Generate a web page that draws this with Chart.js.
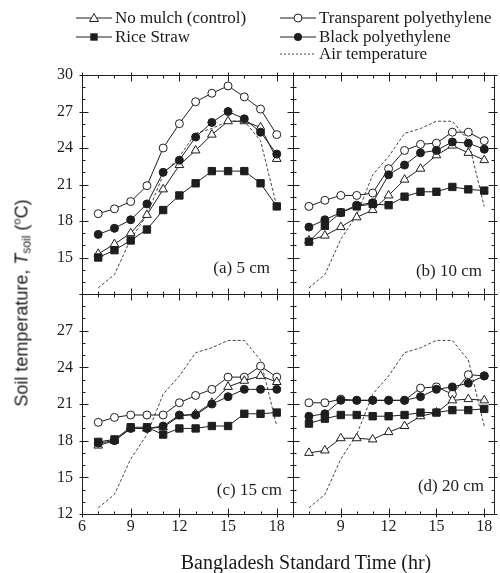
<!DOCTYPE html>
<html>
<head>
<meta charset="utf-8">
<script src="https://cdn.jsdelivr.net/npm/chart.js@4.4.1/dist/chart.umd.min.js"></script>
<style>
  body { margin: 0; background: #fff; }
  #wrap { position: relative; width: 500px; height: 573px; overflow: hidden; font-family: "Liberation Serif", serif; color: #1a1a1a; }
  #wrap canvas { position: absolute; left: 0; top: 0; }
  .leg { position: absolute; font-size: 17px; line-height: 18px; white-space: nowrap; }
  .leg svg { position: absolute; left: 0; top: 3px; }
  .leg span { position: absolute; left: 39px; top: 0; }
  #ytitle { position: absolute; left: 22px; top: 303px; transform: translate(-50%, -50%) rotate(-90deg);
            white-space: nowrap; font-family: "Liberation Sans", sans-serif; font-size: 18px; }
  #ytitle sub { font-size: 12px; vertical-align: -3px; }
  #ytitle sup { font-size: 11px; vertical-align: 7px; }
  #xtitle { position: absolute; left: 306px; top: 562px; transform: translate(-50%, -50%);
            white-space: nowrap; font-size: 20px; }
</style>
</head>
<body>
<div id="wrap">
  <canvas id="pa" width="500" height="573"></canvas>
  <canvas id="pb" width="500" height="573"></canvas>
  <canvas id="pc" width="500" height="573"></canvas>
  <canvas id="pd" width="500" height="573"></canvas>
  <div id="legend"></div>
  <div id="ytitle">Soil temperature, <i>T</i><sub>soil</sub> (<sup>o</sup>C)</div>
  <div id="xtitle">Bangladesh Standard Time (hr)</div>
</div>
<script>
const hours = [7, 8, 9, 10, 11, 12, 13, 14, 15, 16, 17, 18]
const airTemp = [12.5, 13.6, 16.5, 18.5, 21.8, 23.3, 25.2, 25.6, 26.2, 26.2, 24.6, 19.2]

// (a) 5 cm
const noMulch5 = [15.3, 16.1, 17.0, 18.5, 20.6, 22.6, 23.8, 25.1, 26.2, 26.2, 25.7, 23.1]
const straw5 = [15.0, 15.6, 16.4, 17.3, 18.9, 20.1, 21.1, 22.1, 22.1, 22.1, 21.1, 19.2]
const transp5 = [18.6, 19.0, 19.6, 20.9, 24.0, 26.0, 27.8, 28.5, 29.1, 28.2, 27.2, 25.1]
const black5 = [16.9, 17.4, 18.1, 19.4, 22.0, 23.0, 24.9, 26.1, 27.0, 26.4, 25.3, 23.5]
// (b) 10 cm
const noMulch10 = [16.4, 16.8, 17.5, 18.3, 18.9, 20.1, 21.4, 22.3, 23.4, 24.2, 23.6, 23.0]
const straw10 = [16.3, 17.6, 18.7, 19.2, 19.4, 19.3, 20.0, 20.4, 20.4, 20.8, 20.6, 20.5]
const transp10 = [19.2, 19.7, 20.1, 20.1, 20.3, 22.3, 23.8, 24.3, 24.4, 25.3, 25.3, 24.6]
const black10 = [17.5, 18.1, 18.7, 19.3, 19.5, 21.8, 22.6, 23.6, 23.8, 24.5, 24.4, 23.9]
// (c) 15 cm
const noMulch15 = [17.6, 18.0, 19.0, 19.0, 19.1, 20.0, 20.2, 21.1, 22.4, 22.9, 23.3, 22.8]
const straw15 = [17.9, 18.1, 19.1, 19.1, 18.5, 19.0, 19.0, 19.2, 19.2, 20.2, 20.2, 20.3]
const transp15 = [19.5, 19.9, 20.1, 20.1, 20.1, 21.1, 21.7, 22.2, 23.2, 23.2, 24.1, 23.2]
const black15 = [17.8, 18.0, 19.0, 19.0, 19.2, 20.1, 20.1, 21.0, 21.6, 22.2, 22.2, 22.2]
// (d) 20 cm
const noMulch20 = [17.0, 17.2, 18.2, 18.2, 18.1, 18.7, 19.2, 20.0, 20.3, 21.3, 21.4, 21.3]
const straw20 = [19.4, 19.8, 20.1, 20.1, 20.0, 20.0, 20.1, 20.3, 20.3, 20.5, 20.5, 20.6]
const transp20 = [21.1, 21.1, 21.4, 21.3, 21.3, 21.3, 21.3, 22.3, 22.4, 21.8, 23.4, 23.3]
const black20 = [20.0, 20.2, 21.3, 21.3, 21.3, 21.3, 21.3, 21.6, 22.2, 22.4, 22.7, 23.3]

const xTicks = [6, 9, 12, 15, 18]
const yTicks = [12, 15, 18, 21, 24, 27, 30]

const ink = '#1e1e1e'
const serif = '"Liberation Serif", "Times New Roman", serif'

function pts(vals){
    return hours.map((h, i) => ({x: h, y: vals[i]}))
}

// frame, inward ticks and panel label
const framePlugin = {
    id: 'panelFrame',
    afterDraw(chart, args, opts){
        const {ctx, chartArea: a, scales: {x, y}} = chart
        const L = Math.round(a.left) + 0.5, R = Math.round(a.right) + 0.5
        const T = Math.round(a.top) + 0.5, B = Math.round(a.bottom) + 0.5
        ctx.save()
        ctx.strokeStyle = ink
        ctx.lineWidth = 1
        ctx.strokeRect(L, T, R - L, B - T)
        ctx.beginPath()
        for(let h = 6; h <= x.max; h++){
            let px = Math.round(x.getPixelForValue(h)) + 0.5
            let major = xTicks.includes(h)
            let len = major ? 6 : 3
            let out = major ? 3 : 0
            ctx.moveTo(px, B + out); ctx.lineTo(px, B - len)
            ctx.moveTo(px, T - out); ctx.lineTo(px, T + len)
        }
        for(let v = 12; v <= 30; v++){
            let py = Math.round(y.getPixelForValue(v)) + 0.5
            let major = yTicks.includes(v)
            let len = major ? 6 : 3
            let out = major ? 3 : 0
            ctx.moveTo(L - out, py); ctx.lineTo(L + len, py)
            ctx.moveTo(R + out, py); ctx.lineTo(R - len, py)
        }
        ctx.stroke()
        ctx.fillStyle = ink
        ctx.font = '17px ' + serif
        ctx.textAlign = 'right'
        ctx.textBaseline = 'alphabetic'
        ctx.fillText(opts.text, opts.x, opts.y)
        ctx.restore()
    }
}

function makePanel(id, area, s, o){
    const solid = {borderColor: ink, borderWidth: 1, pointBorderColor: ink, pointBorderWidth: 1, pointHoverRadius: 0}
    new Chart(document.getElementById(id), {
        type: 'line',
        data: {
            datasets: [
                {...solid, label: 'Rice Straw', data: pts(s.straw), pointStyle: 'rect', pointRadius: 5.2, pointBackgroundColor: ink},
                {...solid, label: 'Black polyethylene', data: pts(s.black), pointStyle: 'circle', pointRadius: 4, pointBackgroundColor: ink},
                {...solid, label: 'No mulch (control)', data: pts(s.noMulch), pointStyle: 'triangle', pointRadius: 5, pointBackgroundColor: '#fff'},
                {...solid, label: 'Transparent polyethylene', data: pts(s.transp), pointStyle: 'circle', pointRadius: 4, pointBackgroundColor: '#fff'},
                {label: 'Air temperature', data: pts(airTemp), borderColor: '#444', borderWidth: 1, borderDash: [3, 2], pointRadius: 0}
            ]
        },
        options: {
            responsive: false,
            animation: false,
            events: [],
            layout: {padding: {left: area.left - 30, right: 500 - area.right, top: area.top, bottom: 573 - area.bottom - 24}},
            plugins: {
                legend: {display: false},
                tooltip: {enabled: false},
                panelFrame: o.label
            },
            scales: {
                x: {
                    type: 'linear', min: 6, max: o.xMax,
                    afterFit: sc => { sc.height = 24 },
                    grid: {display: false, drawTicks: false},
                    border: {display: false},
                    ticks: {
                        display: o.xLabels, stepSize: 1, autoSkip: false, includeBounds: false, maxRotation: 0,
                        padding: 3, color: ink, font: {family: serif, size: 16},
                        callback: v => (xTicks.includes(v) && !o.skipX.includes(v)) ? String(v) : ''
                    }
                },
                y: {
                    min: 12, max: 30,
                    afterFit: sc => { sc.width = 30 },
                    grid: {display: false, drawTicks: false},
                    border: {display: false},
                    ticks: {
                        display: o.yLabels, stepSize: 1, autoSkip: false, includeBounds: false,
                        padding: 9, color: ink, font: {family: serif, size: 16},
                        callback: v => (yTicks.includes(v) && !o.skipY.includes(v)) ? String(v) : ''
                    }
                }
            }
        },
        plugins: [framePlugin]
    })
}

makePanel('pa', {left: 82, right: 293, top: 75, bottom: 294},
    {noMulch: noMulch5, straw: straw5, transp: transp5, black: black5},
    {xMax: 19, xLabels: false, yLabels: true, skipX: [], skipY: [12], label: {text: '(a) 5 cm', x: 270, y: 273}})
makePanel('pb', {left: 293, right: 495, top: 75, bottom: 294},
    {noMulch: noMulch10, straw: straw10, transp: transp10, black: black10},
    {xMax: 18.6, xLabels: false, yLabels: false, skipX: [], skipY: [], label: {text: '(b) 10 cm', x: 482, y: 276}})
makePanel('pc', {left: 82, right: 293, top: 294, bottom: 514},
    {noMulch: noMulch15, straw: straw15, transp: transp15, black: black15},
    {xMax: 19, xLabels: true, yLabels: true, skipX: [], skipY: [30], label: {text: '(c) 15 cm', x: 282, y: 495}})
makePanel('pd', {left: 293, right: 495, top: 294, bottom: 514},
    {noMulch: noMulch20, straw: straw20, transp: transp20, black: black20},
    {xMax: 18.6, xLabels: true, yLabels: false, skipX: [6], skipY: [], label: {text: '(d) 20 cm', x: 484, y: 491}})

// legend
const legendItems = [
    {label: 'No mulch (control)', mark: 'tri', x: 76, y: 9},
    {label: 'Rice Straw', mark: 'sq', x: 76, y: 28},
    {label: 'Transparent polyethylene', mark: 'ocirc', x: 280, y: 9},
    {label: 'Black polyethylene', mark: 'fcirc', x: 280, y: 28},
    {label: 'Air temperature', mark: 'dash', x: 280, y: 45}
]
const marks = {
    tri: '<line x1="0" y1="6" x2="36" y2="6" stroke="#1e1e1e"/><polygon points="18,1.5 22.5,9.5 13.5,9.5" fill="#fff" stroke="#1e1e1e"/>',
    sq: '<line x1="0" y1="6" x2="36" y2="6" stroke="#1e1e1e"/><rect x="14.3" y="2.3" width="7.4" height="7.4" fill="#1e1e1e"/>',
    ocirc: '<line x1="0" y1="6" x2="36" y2="6" stroke="#1e1e1e"/><circle cx="18" cy="6" r="4" fill="#fff" stroke="#1e1e1e"/>',
    fcirc: '<line x1="0" y1="6" x2="36" y2="6" stroke="#1e1e1e"/><circle cx="18" cy="6" r="4" fill="#1e1e1e"/>',
    dash: '<line x1="0" y1="6" x2="36" y2="6" stroke="#444" stroke-dasharray="2,2"/>'
}
let legend = document.querySelector('#legend')
legendItems.forEach(item => {
    let d = document.createElement('div')
    d.className = 'leg'
    d.style.left = item.x + 'px'
    d.style.top = item.y + 'px'
    d.innerHTML = `<svg width="36" height="12">${marks[item.mark]}</svg><span>${item.label}</span>`
    legend.append(d)
})
</script>
</body>
</html>
